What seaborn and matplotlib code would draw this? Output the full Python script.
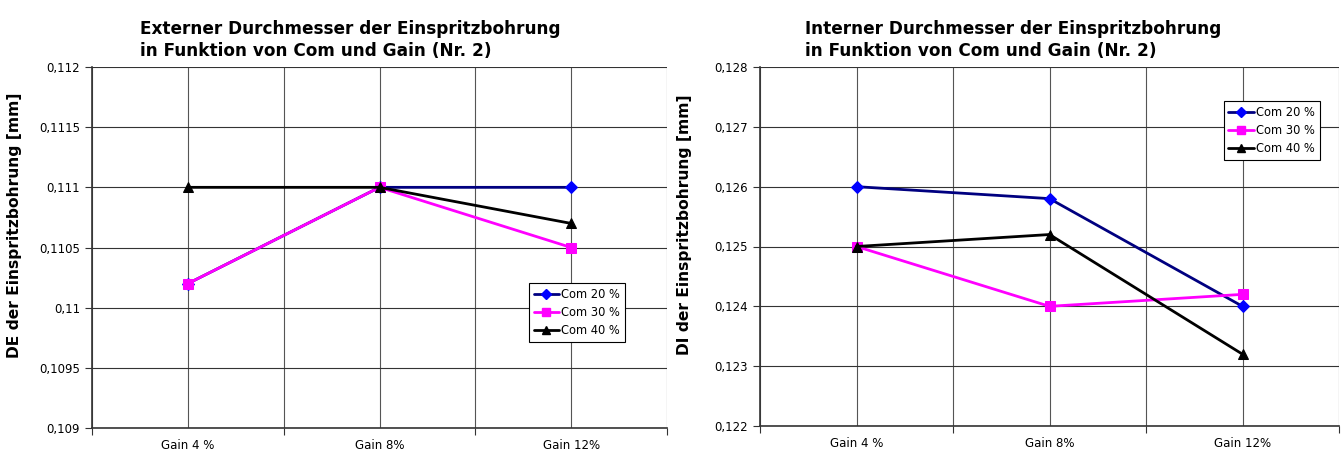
import matplotlib
matplotlib.use("Agg")
import matplotlib.pyplot as plt
import matplotlib.ticker as mticker
from matplotlib.lines import Line2D
import seaborn as sns
import pandas as pd

categories = ["Gain 4 %", "Gain 8%", "Gain 12%"]
series_names = ["Com 20 %", "Com 30 %", "Com 40 %"]

de_com20 = [0.1102, 0.1110, 0.1110]
de_com30 = [0.1102, 0.1110, 0.1105]
de_com40 = [0.1110, 0.1110, 0.1107]

di_com20 = [0.1260, 0.1258, 0.1240]
di_com30 = [0.1250, 0.1240, 0.1242]
di_com40 = [0.1250, 0.1252, 0.1232]

de_ticks = [0.109, 0.1095, 0.110, 0.1105, 0.111, 0.1115, 0.112]
di_ticks = [0.122, 0.123, 0.124, 0.125, 0.126, 0.127, 0.128]

titles = ["Externer Durchmesser der Einspritzbohrung\nin Funktion von Com und Gain (Nr. 2)",
          "Interner Durchmesser der Einspritzbohrung\nin Funktion von Com und Gain (Nr. 2)"]
ylabels = ["DE der Einspritzbohrung [mm]", "DI der Einspritzbohrung [mm]"]

line_colors = {"Com 20 %": "#000080", "Com 30 %": "#FF00FF", "Com 40 %": "#000000"}
marker_colors = {"Com 20 %": "#0000FF", "Com 30 %": "#FF00FF", "Com 40 %": "#000000"}
markers = {"Com 20 %": "D", "Com 30 %": "s", "Com 40 %": "^"}
msizes = {"Com 20 %": 6, "Com 30 %": 7, "Com 40 %": 7}

sns.set_theme(style="white")
plt.rcParams["font.family"] = ["DejaVu Sans"]
plt.rcParams["text.color"] = "black"
plt.rcParams["axes.labelcolor"] = "black"
plt.rcParams["xtick.color"] = "black"
plt.rcParams["ytick.color"] = "black"


def make_df(s20, s30, s40):
    rows = []
    for name, vals in zip(series_names, [s20, s30, s40]):
        for i, (c, v) in enumerate(zip(categories, vals)):
            rows.append({"x": i, "cat": c, "value": v, "series": name})
    return pd.DataFrame(rows)


fig = plt.figure(figsize=(13.41, 4.57), dpi=100)
ax1 = fig.add_axes([92 / 1341, 1 - 428 / 457, (667 - 92) / 1341, (428 - 67) / 457])
ax2 = fig.add_axes([760 / 1341, 1 - 426 / 457, (1339 - 760) / 1341, (426 - 67) / 457])

fmt = mticker.FuncFormatter(lambda v, p: f"{round(v, 6):g}".replace(".", ","))

configs = [
    (ax1, make_df(de_com20, de_com30, de_com40), de_ticks, titles[0], ylabels[0], (0.76, 0.238), 0.083, -0.122),
    (ax2, make_df(di_com20, di_com30, di_com40), di_ticks, titles[1], ylabels[1], (0.801, 0.741), 0.078, -0.117),
]

for ax, df, ticks, title, ylabel, legpos, tx, lx in configs:
    sns.lineplot(data=df, x="x", y="value", hue="series", style="series",
                 palette=line_colors, markers=markers, dashes=False,
                 linewidth=2, ax=ax, legend=False, zorder=3)
    for line, name in zip(ax.get_lines(), series_names):
        line.set_markerfacecolor(marker_colors[name])
        line.set_markeredgecolor(marker_colors[name])
        line.set_markersize(msizes[name])
        line.set_clip_on(False)
    ax.set_xlim(-0.5, 2.5)
    ax.set_ylim(ticks[0], ticks[-1])
    ax.set_yticks(ticks)
    ax.yaxis.set_major_formatter(fmt)
    ax.set_xticks([-0.5, 0.5, 1.5, 2.5])
    ax.set_xticklabels([])
    ax.set_xticks([0, 1, 2], minor=True)
    ax.set_xticklabels(categories, minor=True)
    ax.tick_params(axis="x", which="minor", length=0, labelsize=8.5, pad=8)
    ax.tick_params(axis="x", which="major", length=5, width=0.8, direction="out", color="#333333", bottom=True)
    ax.tick_params(axis="y", length=5, width=0.8, direction="out", labelsize=8.5, left=True, color="#333333")
    ax.grid(True, axis="y", color="#333333", linewidth=0.8)
    ax.grid(True, axis="x", which="both", color="#555555", linewidth=0.8)
    ax.set_axisbelow(True)
    for s in ["top", "right"]:
        ax.spines[s].set_visible(False)
    for s in ["left", "bottom"]:
        ax.spines[s].set_color("#333333")
        ax.spines[s].set_linewidth(1.2)
    ax.set_xlabel("")
    ax.set_ylabel(ylabel, fontsize=11.2, fontweight="bold")
    ax.yaxis.set_label_coords(lx, 0.562)
    ax.set_title(title, fontsize=12.2, fontweight="bold", loc="left", x=tx, pad=8, linespacing=1.3)
    handles = [Line2D([0], [0], color=line_colors[n], marker=markers[n], markerfacecolor=marker_colors[n],
                      markeredgecolor=marker_colors[n], markersize=msizes[n] - 1, linewidth=2) for n in series_names]
    leg = ax.legend(handles, series_names, loc="lower left", bbox_to_anchor=legpos, fontsize=8.3,
                    frameon=True, fancybox=False, framealpha=1, edgecolor="black",
                    handlelength=2.2, handletextpad=0.2, borderpad=0.4, labelspacing=0.45, borderaxespad=0)
    leg.get_frame().set_linewidth(0.8)

fig.savefig("out.png", dpi=100, facecolor="white")
